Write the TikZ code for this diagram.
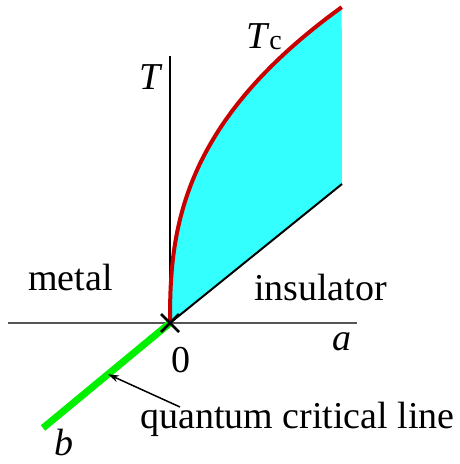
\documentclass[tikz,border=0pt]{standalone}
\usepackage{fontspec}
\setmainfont{Liberation Serif}
\usetikzlibrary{arrows.meta, calc}
\definecolor{tcred}{HTML}{C80000}
\definecolor{phcyan}{HTML}{33FFFF}
\definecolor{qcgreen}{HTML}{00F000}
\definecolor{axgray}{HTML}{555555}

\begin{document}
\begin{tikzpicture}[x=1pt, y=-1pt, >={Stealth[length=11pt, width=7pt]},
  lbl/.style={anchor=base, inner sep=0pt, font=\fontsize{38}{40}\selectfont}]

\useasboundingbox (0,0) rectangle (459,464);

% Key points
\coordinate (O) at (170,323);
\coordinate (Ttop) at (170,56);
\coordinate (aleft) at (8,323);
\coordinate (aright) at (357,323);
\coordinate (bend) at (43,428);
\coordinate (Tcend) at (342,7);
\coordinate (insend) at (342,184);

% Insulating region
\fill[phcyan] (O)
  -- plot[smooth, domain=0.0001:1, samples=60] ({170+172*pow(\x,2.55)}, {323-316*\x})
  -- (insend) -- cycle;

% Axes
\draw[axgray, line width=1.2pt] (aleft) -- (aright);
\draw[black, line width=2pt] (O) -- (Ttop);
\draw[black, line width=2pt] (O) -- (insend);

% Quantum critical line
\draw[qcgreen, line width=7pt] (O) -- (bend);

% Transition temperature
\draw[tcred, line width=4pt, smooth, domain=0.0001:1, samples=60]
  plot ({170+172*pow(\x,2.55)}, {323-316*\x});

% Quantum critical point
\draw[black, line width=2.5pt] ($(O)+(-9,-9)$) -- ($(O)+(9,9)$)
  ($(O)+(-9,9)$) -- ($(O)+(9,-9)$);

% Labels
\node[lbl] (Tlab) at (151,89) {\textit{T}};
\node[lbl] (Tclab) at (264,48) {\textit{T}\raisebox{-0.1ex}{\fontsize{28}{28}\selectfont c}};
\node[lbl] (metal) at (70.5,290) {metal};
\node[lbl] (insul) at (320.5,300) {insulator};
\node[lbl] (alab) at (342,350) {\textit{a}};
\node[lbl] (zero) at (181,372) {0};
\node[lbl] (blab) at (64,455) {\textit{b}};
\node[lbl] (qcl) at (297.5,428) {quantum critical line};

% Pointer to the line
\coordinate (qctail) at (180,407);
\coordinate (qchead) at ($(O)!0.488!(bend)$);
\draw[->, line width=1.5pt] (qctail) -- (qchead);

\end{tikzpicture}
\end{document}
